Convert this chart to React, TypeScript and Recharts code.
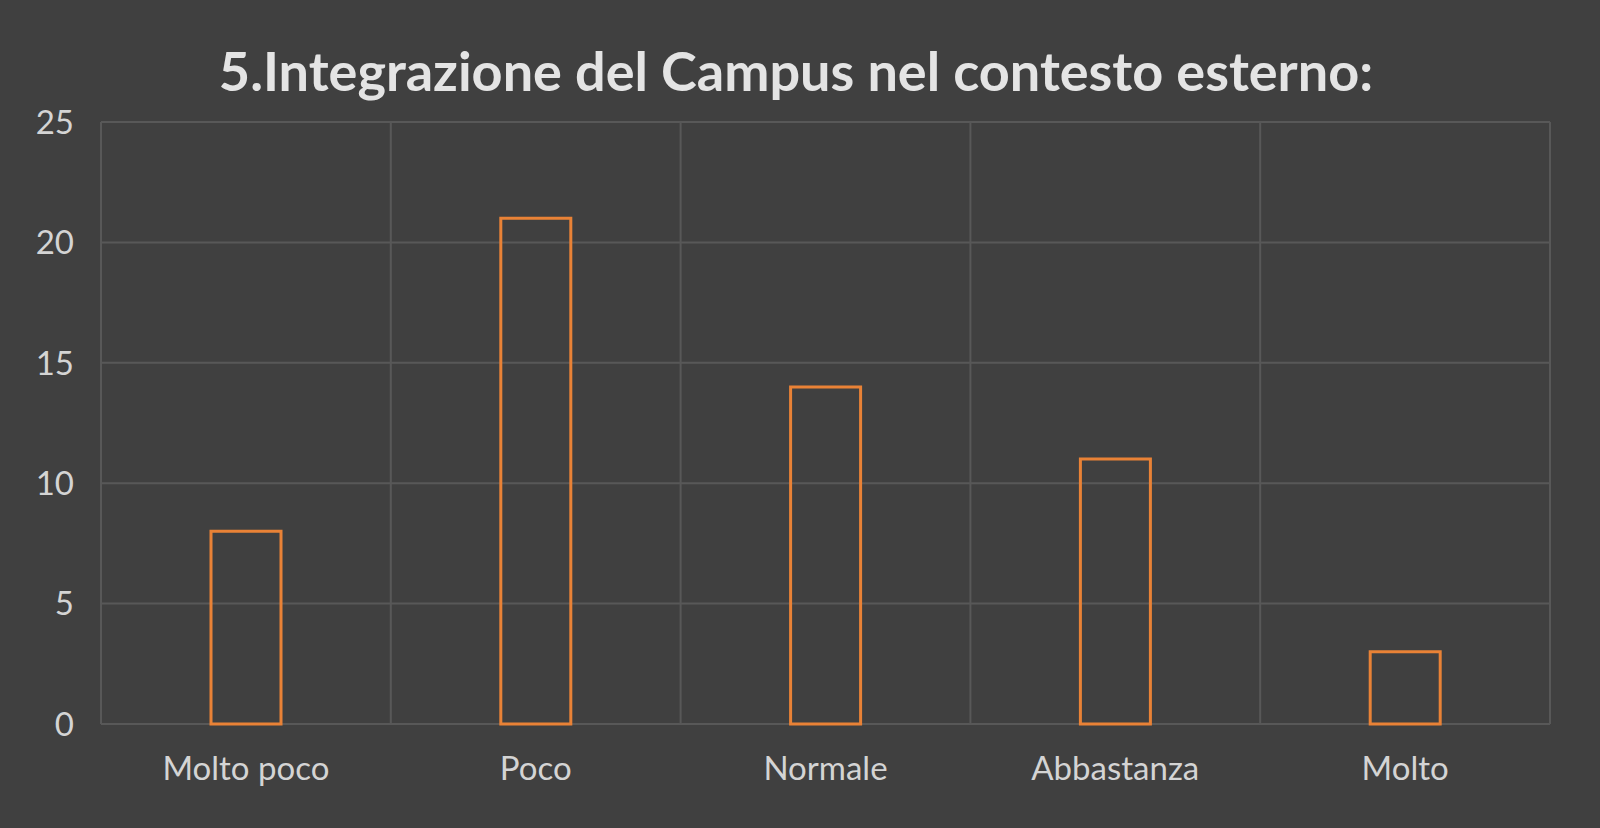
import { Bar, BarChart, CartesianGrid, XAxis, YAxis } from "recharts";

const categories = ["Molto poco", "Poco", "Normale", "Abbastanza", "Molto"];
const answers = [8, 21, 14, 11, 3];
const yTicks = [0, 5, 10, 15, 20, 25];

const data = categories.map((name, i) => ({ name, value: answers[i] }));

const BG = "#404040";
const GRID = "#585858";
const TEXT = "#d4d4d4";
const ORANGE = "#e98236";

const App = () => {
    return (
        <div style={{ position: "fixed", top: 0, left: 0, width: 1600, height: 828, background: BG, fontFamily: "Lato" }}>
            <div
                style={{
                    position: "absolute",
                    top: 36,
                    left: 0,
                    width: 1592,
                    textAlign: "center",
                    fontSize: 54,
                    fontWeight: "bold",
                    color: "#e4e4e4",
                    lineHeight: "70px",
                }}
            >
                5.Integrazione del Campus nel contesto esterno:
            </div>
            <BarChart
                width={1600}
                height={828}
                data={data}
                margin={{ top: 122, right: 50, bottom: 0, left: 0 }}
                barSize={70}
            >
                <CartesianGrid
                    stroke={GRID}
                    strokeWidth={2}
                    verticalCoordinatesGenerator={({ offset }) =>
                        [0, 1, 2, 3, 4, 5].map((i) => offset.left + (offset.width * i) / 5)
                    }
                />
                <XAxis
                    dataKey="name"
                    height={104}
                    axisLine={false}
                    tickLine={false}
                    tickSize={0}
                    tickMargin={33}
                    tick={{ fill: TEXT, fontSize: 33, fontFamily: "Lato" }}
                />
                <YAxis
                    width={101}
                    domain={[0, 25]}
                    ticks={yTicks}
                    axisLine={false}
                    tickLine={false}
                    tickSize={0}
                    tickMargin={27}
                    tick={{ fill: TEXT, fontSize: 33, fontFamily: "Lato" }}
                />
                <Bar dataKey="value" fill="none" stroke={ORANGE} strokeWidth={3} isAnimationActive={false} />
            </BarChart>
        </div>
    );
};

export default App;
